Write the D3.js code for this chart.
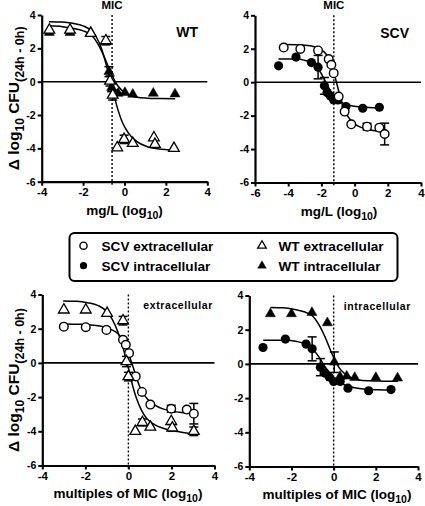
<!DOCTYPE html>
<html><head><meta charset="utf-8">
<script src="https://cdn.jsdelivr.net/npm/d3@7"></script>
<style>
body{margin:0;background:#fff}
svg{display:block}
text{font-family:"Liberation Sans",Arial,sans-serif;font-weight:bold;fill:#000}
</style>
</head><body><svg id="c" width="425" height="506"></svg>
<script>
// ---------- DATA (x, y, optional error) ----------
// Panel A: WT, mg/L (log10)
const wtExtA = [[-3.63,3.1],[-2.63,3.1],[-1.63,2.9],[-0.9,2.46,0.25],[-0.7,0.04,0.3],[-0.57,-0.8,0.3],[-0.35,-3.96],[-0.02,-3.46,0.25],[0.4,-3.7],[1.42,-3.36],[1.47,-3.76],[2.39,-4.0]];
const wtIntA = [[-3.63,2.95],[-2.63,2.95],[-1.63,2.95],[-0.9,2.4],[-0.75,0.6,0.3],[-0.62,-0.35,0.25],[-0.31,-0.7],[0.02,-0.66],[0.4,-0.76],[1.39,-0.7],[2.44,-0.74]];
const wtExtFitA = [[-3.65,3.6],[-3,3.58],[-2.5,3.5],[-2,3.35],[-1.6,3.05],[-1.35,2.65],[-1.1,1.95],[-0.9,1.1],[-0.7,0.15],[-0.5,-0.85],[-0.3,-1.75],[-0.1,-2.45],[0.2,-3.1],[0.6,-3.6],[1.1,-3.9],[1.6,-4.03],[2.45,-4.12]];
const wtIntFitA = [[-3.65,3.35],[-3,3.3],[-2.5,3.2],[-2,3.05],[-1.6,2.8],[-1.3,2.3],[-1.0,1.55],[-0.75,0.8],[-0.55,0.25],[-0.35,-0.2],[-0.1,-0.55],[0.25,-0.82],[0.6,-0.94],[1.1,-0.99],[1.7,-1.01],[2.45,-1.02]];
// Panel B: SCV, mg/L (log10)
const scvExtB = [[-4.27,2.07],[-3.27,1.99],[-2.2,1.9],[-1.56,1.38],[-1.4,1.04],[-1.26,0.54],[-0.96,-0.86],[-0.6,-1.76],[-0.2,-2.52],[0.75,-2.66,0.2],[1.49,-2.72],[1.81,-3.1,0.65]];
const scvIntB = [[-4.58,0.98],[-3.53,1.5],[-2.6,1.17],[-2.2,0.9,0.7],[-1.82,-0.22,0.5],[-1.66,-0.62],[-1.46,-0.82],[-1.26,-1.06],[-1.0,-1.06],[-0.52,-1.46],[0.49,-1.56],[1.49,-1.5]];
const scvExtFitB = [[-4.27,2.25],[-3.45,2.24],[-2.85,2.2],[-2.43,2.12],[-2.05,1.95],[-1.73,1.7],[-1.42,1.15],[-1.23,0.5],[-1.04,-0.21],[-0.73,-1.37],[-0.5,-1.9],[-0.26,-2.25],[0.05,-2.52],[0.35,-2.69],[0.75,-2.82],[1.12,-2.89],[1.45,-2.94],[1.82,-2.97]];
const scvIntFitB = [[-4.59,1.38],[-4.05,1.39],[-3.56,1.38],[-3.05,1.32],[-2.61,1.18],[-2.3,0.92],[-2.06,0.6],[-1.85,0.22],[-1.67,-0.15],[-1.45,-0.52],[-1.27,-0.83],[-0.95,-1.1],[-0.63,-1.28],[-0.25,-1.4],[0.31,-1.48],[0.85,-1.51],[1.5,-1.53]];
// Panel C: extracellular, multiples of MIC (log10)
const wtExtC = [[-3.0,3.1],[-1.98,3.1],[-0.99,2.9],[-0.25,2.47,0.25],[-0.09,0.08,0.3],[0.0,-0.8,0.25],[0.32,-4.0],[0.65,-3.48,0.2],[1.02,-3.75],[1.99,-3.42],[2.04,-3.8,0.2],[3.04,-4.0,0.25]];
const scvExtC = [[-3.0,2.12],[-1.98,2.09],[-1.02,1.93],[-0.25,1.35],[-0.12,1.06],[0.03,0.57],[0.34,-0.79],[0.63,-1.7],[1.02,-2.44],[1.99,-2.68,0.2],[2.71,-2.73],[3.04,-2.97,0.6]];
const wtExtFitC = [[-3.03,3.62],[-2.4,3.6],[-1.9,3.52],[-1.4,3.35],[-1.0,3.0],[-0.75,2.55],[-0.5,1.85],[-0.3,1.1],[-0.1,0.2],[0.06,-0.6],[0.2,-1.35],[0.37,-2.05],[0.6,-2.75],[0.83,-3.22],[1.1,-3.52],[1.45,-3.75],[1.8,-3.9],[2.22,-4.0],[2.6,-4.08],[3.07,-4.13]];
const scvExtFitC = [[-3.02,2.28],[-2.2,2.26],[-1.6,2.2],[-1.18,2.12],[-0.8,1.95],[-0.48,1.7],[-0.17,1.15],[0.02,0.5],[0.21,-0.21],[0.52,-1.37],[0.75,-1.9],[0.99,-2.25],[1.3,-2.52],[1.6,-2.69],[2.0,-2.82],[2.37,-2.89],[2.7,-2.94],[3.07,-2.97]];
// Panel D: intracellular, multiples of MIC (log10)
const wtIntD = [[-3.0,2.93],[-2.0,2.93],[-1.03,3.0],[-0.3,2.4],[0.03,0.1,0.6],[0.3,-0.74],[0.62,-0.72],[1.0,-0.8],[2.0,-0.8],[3.03,-0.83]];
const scvIntD = [[-3.35,0.96],[-2.29,1.45],[-1.31,1.16],[-1.02,0.88,0.7],[-0.63,-0.19,0.5],[-0.4,-0.54],[-0.21,-0.77],[0.0,-1.03],[0.31,-1.03],[0.68,-1.42],[1.66,-1.57],[2.72,-1.5]];
const wtIntFitD = [[-3.0,3.3],[-2.4,3.28],[-1.9,3.2],[-1.4,3.05],[-1.0,2.8],[-0.7,2.3],[-0.4,1.55],[-0.15,0.8],[0.05,0.25],[0.25,-0.2],[0.5,-0.55],[0.85,-0.82],[1.2,-0.94],[1.7,-0.99],[2.3,-1.01],[3.05,-1.02]];
const scvIntFitD = [[-3.34,1.38],[-2.8,1.39],[-2.31,1.38],[-1.8,1.32],[-1.36,1.18],[-1.05,0.92],[-0.81,0.6],[-0.6,0.22],[-0.42,-0.15],[-0.2,-0.52],[-0.02,-0.83],[0.3,-1.1],[0.62,-1.28],[1.0,-1.4],[1.56,-1.48],[2.1,-1.51],[2.75,-1.53]];

const yTicks = [4,2,0,-2,-4,-6];
const xTicksStd = [-4,-2,0,2,4];
const xTicksScv = [-6,-4,-2,0,2,4];
const micValues = {A:-0.6, B:-1.25, C:0, D:0};
const legendItems = ["SCV extracellular","SCV intracellular","WT extracellular","WT intracellular"];

// ---------- DRAWING ----------
const svg = d3.select("#c");

function marker(g, type, filled, size){
  if(type==="circle"){
    g.append("circle").attr("r", filled? 4.6 : 4.3)
      .attr("fill", filled? "#000":"#fff").attr("stroke","#000").attr("stroke-width", filled?0:1.4);
  } else {
    g.append("path").attr("d", d3.symbol(d3.symbolTriangle, size|| (filled?44:50))())
      .attr("fill", filled? "#000":"#fff").attr("stroke","#000").attr("stroke-width", filled?0.5:1.3)
      .attr("stroke-linejoin","miter");
  }
}

function subText(t, main, sub, after, mainSize, subSize){
  t.append("tspan").attr("font-size",mainSize).text(main);
  t.append("tspan").attr("font-size",subSize).attr("dy", subSize*0.35).text(sub);
  t.append("tspan").attr("font-size",mainSize).attr("dy", -subSize*0.35).text(after);
}

function panel(cfg){
  const x = d3.scaleLinear().domain(cfg.xd).range(cfg.xr);
  const y = d3.scaleLinear().domain([4,-6]).range(cfg.yr);
  const g = svg.append("g");

  g.append("line").attr("x1",cfg.xr[0]).attr("x2",cfg.xr[1]).attr("y1",y(0)).attr("y2",y(0))
    .attr("stroke","#000").attr("stroke-width",1.6);
  g.append("line").attr("x1",x(cfg.mic)).attr("x2",x(cfg.mic)).attr("y1",y(4)).attr("y2",y(-6)+3)
    .attr("stroke","#000").attr("stroke-width",1.4).attr("stroke-dasharray","2,2");

  const line = d3.line().x(d=>x(d[0])).y(d=>y(d[1])).curve(d3.curveMonotoneX);
  cfg.series.forEach(s=>{
    g.append("path").attr("d", line(s.fit)).attr("fill","none").attr("stroke","#000").attr("stroke-width",1.5);
  });
  cfg.series.forEach(s=>{
    s.data.filter(d=>d[2]).forEach(d=>{
      const px = x(d[0]);
      const y1 = y(d[1]+d[2]), y2 = y(d[1]-d[2]);
      g.append("line").attr("x1",px).attr("x2",px).attr("y1",y1).attr("y2",y2).attr("stroke","#000").attr("stroke-width",1.5);
      [y1,y2].forEach(yy=>g.append("line").attr("x1",px-4.5).attr("x2",px+4.5).attr("y1",yy).attr("y2",yy).attr("stroke","#000").attr("stroke-width",1.5));
    });
  });
  cfg.series.forEach(s=>{
    s.data.forEach(d=>{
      const m = g.append("g").attr("transform",`translate(${x(d[0])},${y(d[1])})`);
      marker(m, s.type, s.filled);
    });
  });

  const fmt = d=>String(d);
  const xa = g.append("g").attr("transform",`translate(0,${cfg.yr[1]})`)
    .call(d3.axisBottom(x).tickValues(cfg.xt).tickSize(4).tickSizeOuter(0).tickFormat(fmt).tickPadding(2));
  const ya = g.append("g").attr("transform",`translate(${cfg.xr[0]},0)`)
    .call(d3.axisLeft(y).tickValues(yTicks).tickSize(4).tickSizeOuter(0).tickFormat(fmt).tickPadding(2));
  [xa,ya].forEach(a=>{
    a.select(".domain").attr("stroke-width",2.2);
    a.selectAll(".tick line").attr("stroke-width",2);
    a.selectAll("text").attr("font-family",'"Liberation Sans",Arial,sans-serif').attr("font-weight","bold").attr("fill","#000");
  });
  xa.selectAll("text").attr("font-size",11.5);
  ya.selectAll("text").attr("font-size",10.5);

  const xt = g.append("text").attr("x",cfg.xTitleX).attr("y",cfg.xTitleY).attr("text-anchor","middle");
  subText(xt, cfg.xTitle, "10", ")", 13.5, 10.5);

  if(cfg.yTitle){
    const cy = (cfg.yr[0]+cfg.yr[1])/2;
    const yt = g.append("text").attr("transform",`translate(${cfg.yTitleX},${cy}) rotate(-90)`).attr("text-anchor","middle");
    yt.append("tspan").attr("font-size",15.5).text("\u0394 log");
    yt.append("tspan").attr("font-size",12).attr("dy",5).text("10");
    yt.append("tspan").attr("font-size",15.5).attr("dy",-5).text(" CFU");
    yt.append("tspan").attr("font-size",12.5).attr("dy",5).text("(24h - 0h)");
  }
  if(cfg.micLabel){
    g.append("text").attr("x",x(cfg.mic)).attr("y",cfg.yr[0]-6).attr("text-anchor","middle").attr("font-size",11.5).text("MIC");
  }
  if(cfg.corner){
    g.append("text").attr("x",cfg.corner.x).attr("y",cfg.corner.y).attr("text-anchor","end")
      .attr("font-size",cfg.corner.size).attr("letter-spacing",cfg.corner.ls||0).text(cfg.corner.text);
  }
}

panel({xd:[-4,4], xr:[41.7,207.3], yr:[15,181.7], xt:xTicksStd, mic:micValues.A, micLabel:true,
  xTitle:"mg/L (log", xTitleX:124.5, xTitleY:215, yTitle:true, yTitleX:19,
  corner:{text:"WT", x:198, y:37, size:14},
  series:[
    {data:wtIntA, fit:wtIntFitA, type:"tri", filled:true},
    {data:wtExtA, fit:wtExtFitA, type:"tri", filled:false}
  ]});
panel({xd:[-6,4], xr:[255,421], yr:[15.3,182.5], xt:xTicksScv, mic:micValues.B, micLabel:true,
  xTitle:"mg/L (log", xTitleX:339, xTitleY:216, yTitle:false,
  corner:{text:"SCV", x:409, y:37.5, size:14},
  series:[
    {data:scvIntB, fit:scvIntFitB, type:"circle", filled:true},
    {data:scvExtB, fit:scvExtFitB, type:"circle", filled:false}
  ]});
panel({xd:[-4,4], xr:[42.3,214.5], yr:[294.5,465.5], xt:xTicksStd, mic:micValues.C, micLabel:false,
  xTitle:"multiples of MIC (log", xTitleX:128, xTitleY:498, yTitle:true, yTitleX:19,
  corner:{text:"extracellular", x:213, y:309, size:10.5, ls:0.6},
  series:[
    {data:scvExtC, fit:scvExtFitC, type:"circle", filled:false},
    {data:wtExtC, fit:wtExtFitC, type:"tri", filled:false}
  ]});
panel({xd:[-4,4], xr:[249.3,418], yr:[295.5,466.5], xt:xTicksStd, mic:micValues.D, micLabel:false,
  xTitle:"multiples of MIC (log", xTitleX:337, xTitleY:499, yTitle:false,
  corner:{text:"intracellular", x:411, y:309.5, size:10.5, ls:0.6},
  series:[
    {data:wtIntD, fit:wtIntFitD, type:"tri", filled:true},
    {data:scvIntD, fit:scvIntFitD, type:"circle", filled:true}
  ]});

// legend
const lg = svg.append("g");
lg.append("rect").attr("x",69.5).attr("y",233).attr("width",328).attr("height",48).attr("rx",5)
  .attr("fill","#fff").attr("stroke","#000").attr("stroke-width",2);
const legendPos = [
  {text:legendItems[0], mx:83.5, tx:101.5, y:245.7, type:"circle", filled:false},
  {text:legendItems[1], mx:83.5, tx:101.5, y:265.7, type:"circle", filled:true},
  {text:legendItems[2], mx:262, tx:278.5, y:245.7, type:"tri", filled:false},
  {text:legendItems[3], mx:262, tx:278.5, y:265.7, type:"tri", filled:true}
];
legendPos.forEach(it=>{
  const m = lg.append("g").attr("transform",`translate(${it.mx},${it.y})`);
  if(it.type==="circle"){
    m.append("circle").attr("r",3.6).attr("fill",it.filled?"#000":"#fff").attr("stroke","#000").attr("stroke-width",it.filled?0:1.4);
  } else {
    m.append("path").attr("d",d3.symbol(d3.symbolTriangle,32)()).attr("fill",it.filled?"#000":"#fff").attr("stroke","#000").attr("stroke-width",it.filled?0.4:1.3);
  }
  lg.append("text").attr("x",it.tx).attr("y",it.y+5).attr("font-size",13.6).text(it.text);
});
</script>
</body></html>
